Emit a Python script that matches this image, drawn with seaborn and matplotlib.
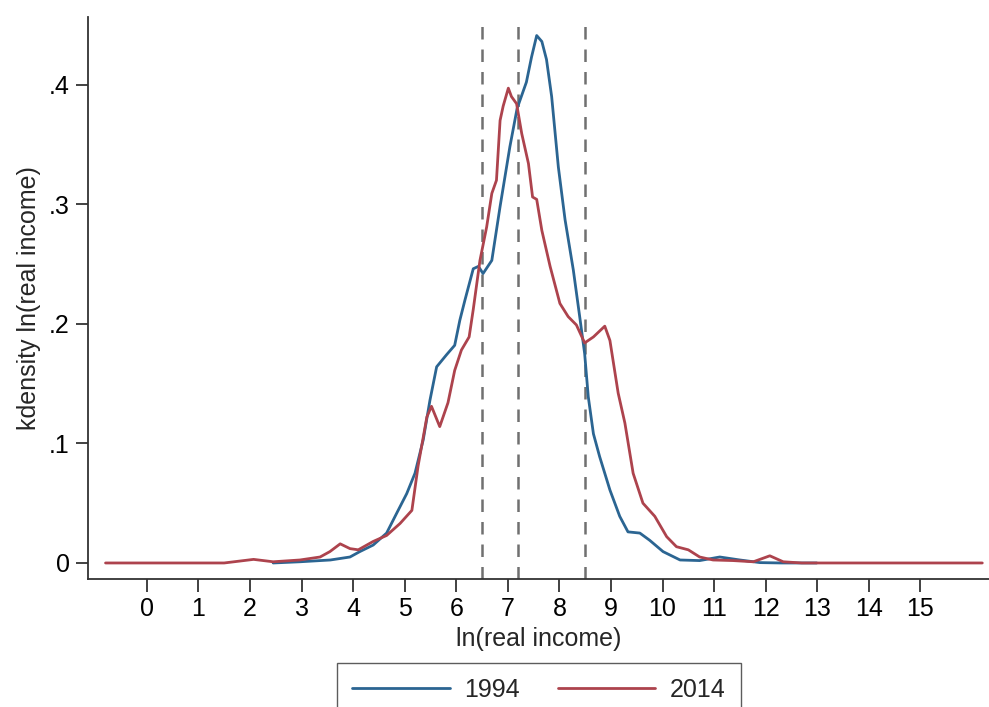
import pandas as pd
import numpy as np
import matplotlib
matplotlib.use('Agg')
import matplotlib.pyplot as plt
import seaborn as sns

# 1994 kernel density (okunan değerler)
x_1994 = [2.45, 2.97, 3.56, 3.94, 4.13, 4.39, 4.65, 4.85, 5.04, 5.20, 5.36, 5.49, 5.62, 5.81,
          5.97, 6.07, 6.17, 6.33, 6.43, 6.52, 6.69, 6.85, 7.04, 7.18, 7.36, 7.46, 7.56, 7.66,
          7.75, 7.85, 7.98, 8.11, 8.27, 8.40, 8.49, 8.56, 8.66, 8.78, 8.98, 9.17, 9.33, 9.56,
          9.75, 10.01, 10.34, 10.72, 11.11, 11.50, 11.89, 12.3, 12.99]
y_1994 = [0.0, 0.001, 0.0025, 0.005, 0.0095, 0.015, 0.025, 0.042, 0.058, 0.075, 0.103, 0.136,
          0.164, 0.174, 0.182, 0.203, 0.22, 0.246, 0.248, 0.242, 0.253, 0.298, 0.348, 0.380,
          0.402, 0.423, 0.441, 0.436, 0.421, 0.390, 0.331, 0.287, 0.245, 0.204, 0.175, 0.139,
          0.108, 0.089, 0.061, 0.039, 0.026, 0.025, 0.019, 0.0095, 0.0025, 0.002, 0.005,
          0.0025, 0.0003, 0.0, 0.0]

# 2014 kernel density
x_2014 = [-0.8, 1.5, 2.07, 2.45, 2.97, 3.36, 3.55, 3.75, 3.94, 4.10, 4.39, 4.65, 4.91, 5.14,
          5.26, 5.43, 5.52, 5.68, 5.84, 5.97, 6.10, 6.25, 6.33, 6.46, 6.59, 6.69, 6.78, 6.85,
          6.91, 7.01, 7.07, 7.17, 7.27, 7.40, 7.48, 7.56, 7.66, 7.82, 8.01, 8.17, 8.33, 8.49,
          8.66, 8.88, 8.98, 9.14, 9.27, 9.43, 9.62, 9.85, 10.08, 10.27, 10.50, 10.72, 10.98,
          11.37, 11.76, 12.08, 12.34, 12.7, 16.2]
y_2014 = [0.0, 0.0, 0.003, 0.001, 0.0025, 0.005, 0.0095, 0.016, 0.012, 0.011, 0.018, 0.023,
          0.033, 0.044, 0.081, 0.122, 0.131, 0.114, 0.134, 0.161, 0.178, 0.189, 0.212, 0.253,
          0.281, 0.309, 0.320, 0.370, 0.382, 0.397, 0.390, 0.384, 0.359, 0.334, 0.306, 0.304,
          0.278, 0.248, 0.217, 0.206, 0.199, 0.184, 0.189, 0.198, 0.186, 0.142, 0.117, 0.075,
          0.050, 0.039, 0.022, 0.0136, 0.011, 0.005, 0.0025, 0.002, 0.001, 0.006, 0.001, 0.0, 0.0]

# dikey kesikli çizgiler
vlines = [6.5, 7.2, 8.5]

x_ticks = list(range(0, 16))
y_ticks = [0, 0.1, 0.2, 0.3, 0.4]
y_tick_labels = ['0', '.1', '.2', '.3', '.4']
years = ['1994', '2014']
colors = {'1994': '#2b6592', '2014': '#ad434d'}

df = pd.concat([
    pd.DataFrame({'x': x_1994, 'y': y_1994, 'year': '1994'}),
    pd.DataFrame({'x': x_2014, 'y': y_2014, 'year': '2014'}),
])

sns.set_style('white')
plt.rcParams['font.family'] = ['Liberation Sans', 'DejaVu Sans']
fs = 18

fig = plt.figure(figsize=(9.89, 7.07), dpi=100)
ax = fig.add_axes([88 / 989, 1 - 579 / 707, 1 - 88 / 989, (579 - 17) / 707])

for xv in vlines:
    ax.axvline(xv, color='#707070', linestyle=(0, (5, 4)), linewidth=1.8, zorder=1)

sns.lineplot(data=df, x='x', y='y', hue='year', hue_order=years, palette=colors,
             estimator=None, sort=False, linewidth=2.0, ax=ax, legend=False, zorder=3)

ax.set_xlim(-1.14, 16.33)
ax.set_ylim(-0.0134, 0.4565)
ax.set_xticks(x_ticks)
ax.set_yticks(y_ticks)
ax.set_yticklabels(y_tick_labels)
ax.tick_params(axis='both', direction='out', length=9, width=1.3, color='#333333',
               labelsize=fs, labelcolor='black', pad=4, bottom=True, left=True)
for side in ['top', 'right']:
    ax.spines[side].set_visible(False)
for side in ['left', 'bottom']:
    ax.spines[side].set_color('#333333')
    ax.spines[side].set_linewidth(1.3)

ax.set_xlabel('ln(real income)', fontsize=fs, labelpad=4)
ax.set_ylabel('kdensity ln(real income)', fontsize=fs, labelpad=6)

handles = [plt.Line2D([], [], color=colors[y], linewidth=2.0) for y in years]
fig.legend(handles, years, loc='upper left', bbox_to_anchor=(337 / 989, 1 - 663 / 707),
           ncol=2, fontsize=fs, frameon=True, fancybox=False, edgecolor='#333333',
           handlelength=3.9, handletextpad=0.6, columnspacing=1.5, borderpad=0.6,
           borderaxespad=0)

fig.savefig('out.png', dpi=100)
